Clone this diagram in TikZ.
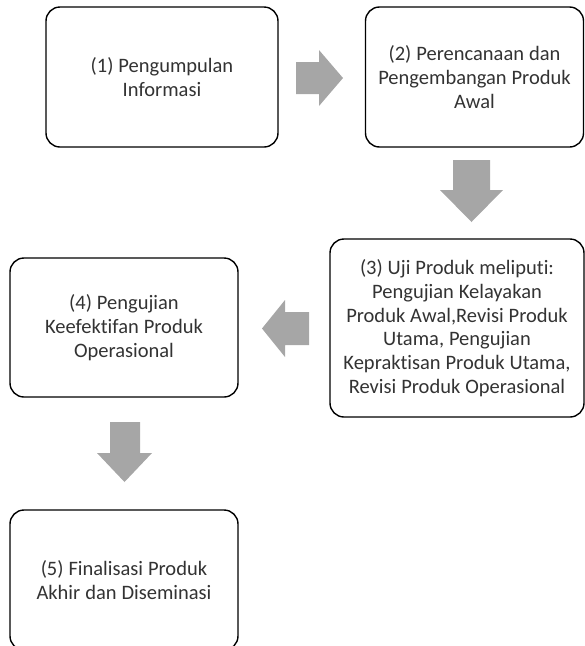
\documentclass[tikz,border=0pt]{standalone}
\usepackage{fontspec}
\setmainfont[RawFeature={-liga;-dlig}]{Carlito}
\newcommand{\boxfont}{\fontsize{20.5}{23.7}\selectfont\spaceskip=0.24em\relax}
\begin{document}
\begin{tikzpicture}[x=1pt,y=-1pt,
  stepbox/.style={draw=black, line width=1.4pt, rounded corners=14pt, fill=white,
    align=center, text=black!80, font=\boxfont, inner sep=2pt},
  blockarrow/.style={fill=black!35, draw=none}]
\useasboundingbox (0,0) rectangle (585,646);
% boxes
\node[stepbox, minimum width=232pt, minimum height=140pt] (b1) at (162,77)
  {(1) Pengumpulan\\Informasi};
\node[stepbox, minimum width=218pt, minimum height=140pt] (b2) at (474.5,77)
  {(2) Perencanaan dan\\Pengembangan Produk\\Awal};
\node[stepbox, minimum width=254pt, minimum height=178pt] (b3) at (457,328)
  {(3) Uji Produk meliputi:\\Pengujian Kelayakan\\Produk Awal,Revisi Produk\\Utama, Pengujian\\Kepraktisan Produk Utama,\\Revisi Produk Operasional};
\node[stepbox, minimum width=228pt, minimum height=139pt] (b4) at (124,327.5)
  {(4) Pengujian\\Keefektifan Produk\\Operasional};
\node[stepbox, minimum width=228pt, minimum height=140pt, yshift=-2.5pt] (b5) at (124,577.5)
  {(5) Finalisasi Produk\\Akhir dan Diseminasi};
% block arrows
% 1 -> 2 (right)
\fill[blockarrow] (296,62) -- (319,62) -- (319,50) -- (343,78) -- (319,106) -- (319,94) -- (296,94) -- cycle;
% 2 -> 3 (down)
\fill[blockarrow] (453,160) -- (490,160) -- (490,190) -- (503,190) -- (471.5,222) -- (440,190) -- (453,190) -- cycle;
% 3 -> 4 (left)
\fill[blockarrow] (309,312) -- (285,312) -- (285,300) -- (262,328.5) -- (285,357) -- (285,345) -- (309,345) -- cycle;
% 4 -> 5 (down)
\fill[blockarrow] (110,422) -- (140,422) -- (140,453) -- (152,453) -- (124.5,482) -- (97,453) -- (110,453) -- cycle;
\end{tikzpicture}
\end{document}
